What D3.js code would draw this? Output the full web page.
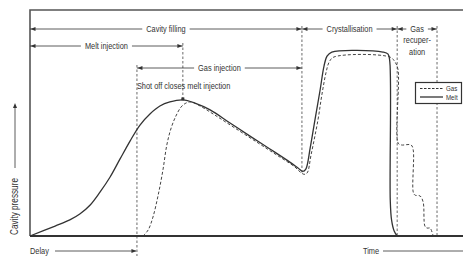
<!DOCTYPE html>
<html>
<head>
<meta charset="utf-8">
<script src="https://cdn.jsdelivr.net/npm/d3@7"></script>
<style>
  html, body { margin: 0; padding: 0; background: #fff; }
  svg { display: block; }
  text { font-family: "Liberation Sans Narrow", "Arial Narrow", "Liberation Sans", sans-serif; fill: #333; }
</style>
</head>
<body>
<svg id="chart" width="463" height="257"></svg>
<script>
// time in s, cavity pressure in % of max
const meltTime = [0.00, 0.58, 0.92, 1.15, 1.39, 1.62, 1.85, 2.08, 2.31, 2.54, 2.77, 3.00, 3.23, 3.53,
    3.81, 4.16, 4.62, 5.08, 5.54, 6.00, 6.19, 6.30, 6.37, 6.47, 6.58, 6.70, 6.79, 6.86, 6.97,
    8.15, 8.27, 8.31, 8.32, 8.35, 8.41, 8.48];
const meltPressure = [0, 4.4, 7.1, 9.7, 13.7, 19.5, 26.1, 34.1, 42.0, 49.1, 54.0, 57.5, 59.3, 60.2,
    58.8, 55.8, 50.0, 44.2, 38.5, 32.7, 30.1, 28.6, 29.6, 38.9, 51.3, 64.6, 75.2, 79.6, 81.4,
    81.4, 80.5, 77.0, 15.9, 7.1, 2.2, 0];

const gasTime = [2.61, 2.73, 2.84, 2.96, 3.07, 3.16, 3.26, 3.37, 3.49, 3.60, 3.72,
    3.93, 4.27, 4.73, 5.20, 5.66, 6.12, 6.24, 6.33, 6.40, 6.49, 6.65, 6.74, 6.84, 6.91, 7.02,
    8.31, 8.43, 8.50, 8.50, 8.57, 8.80, 8.85, 8.85, 8.89, 9.01, 9.08, 9.12, 9.17, 9.24, 9.31];
const gasPressure = [0, 2.7, 8.4, 18.1, 29.2, 40.3, 47.8, 53.1, 57.1, 58.8, 59.3,
    57.5, 53.5, 47.8, 42.0, 36.3, 30.5, 28.3, 27.3, 27.9, 35.8, 51.3, 62.4, 72.6, 77.0, 79.2,
    79.2, 77.0, 73.5, 41.2, 40.3, 40.3, 38.1, 19.5, 18.1, 17.7, 15.0, 4.4, 3.5, 3.5, 0];

// process phases
const phaseNames = ["Cavity filling", "Melt injection", "Gas injection", "Crystallisation", "Gas"];
const phaseStart = [0, 0, 2.47, 6.28, 8.48];
const phaseEnd = [6.28, 3.53, 6.28, 8.48, 9.40];
const phaseRow = [0, 1, 2, 0, 0];

// dashed guides: time, from row, down to pressure (null = below the axis)
const guideTime = [2.47, 3.53, 6.28, 8.48, 9.40];
const guideRow = [2, 1, 0, 0, 0];
const guideEndPressure = [null, 60.2, 27.5, 0, 0];

const legendNames = ["Gas", "Melt"];

const svg = d3.select("#chart");
const x = d3.scaleLinear().domain([0, 10]).range([30, 463]);
const y = d3.scaleLinear().domain([0, 100]).range([236, 10]);
const rowY = [29, 46, 68];
const ink = "#333";

// no narrow font installed, so squeeze the text
function narrow(t) {
    let w = t.node().getComputedTextLength();
    t.attr("textLength", w * 0.82).attr("lengthAdjust", "spacingAndGlyphs");
    return w * 0.82;
}

function arrowHead(g, tipX, tipY, dir) {
    // dir: -1 left, 1 right, 0 up
    let pts;
    if (dir === 0) pts = [[tipX, tipY], [tipX - 2, tipY + 5], [tipX + 2, tipY + 5]];
    else pts = [[tipX, tipY], [tipX - 5 * dir, tipY - 2], [tipX - 5 * dir, tipY + 2]];
    g.append("path").attr("d", "M" + pts.join("L") + "Z").attr("fill", ink);
}

// frame
svg.append("path")
    .attr("d", `M30,236V10H470`)
    .attr("fill", "none").attr("stroke", "#555").attr("stroke-width", 1.6);

// guides
const guides = svg.append("g");
guideTime.forEach((t, i) => {
    let yEnd = guideEndPressure[i] === null ? 256 : y(guideEndPressure[i]);
    guides.append("line")
        .attr("x1", x(t)).attr("x2", x(t))
        .attr("y1", rowY[guideRow[i]] - 3).attr("y2", yEnd)
        .attr("stroke", "#444").attr("stroke-width", 0.8)
        .attr("stroke-dasharray", "2.5,2");
});

// curves
const line = d3.line().x(d => x(d[0])).y(d => y(d[1])).curve(d3.curveCatmullRom.alpha(0.5));
svg.append("path")
    .datum(gasTime.map((t, i) => [t, gasPressure[i]]))
    .attr("d", line).attr("fill", "none")
    .attr("stroke", "#444").attr("stroke-width", 1)
    .attr("stroke-dasharray", "3,2");
svg.append("path")
    .datum(meltTime.map((t, i) => [t, meltPressure[i]]))
    .attr("d", line).attr("fill", "none")
    .attr("stroke", ink).attr("stroke-width", 1.3);

// bottom axis line
svg.append("line").attr("x1", 30).attr("x2", 463).attr("y1", 236).attr("y2", 236)
    .attr("stroke", ink).attr("stroke-width", 2);

// marker at the melt peak
svg.append("rect").attr("x", x(3.53) - 1.5).attr("y", y(60.2) - 2.5)
    .attr("width", 3).attr("height", 3).attr("fill", ink);

// phase arrows
const ann = svg.append("g").attr("font-size", 9);
phaseNames.forEach((name, i) => {
    let x0 = x(phaseStart[i]), x1 = x(phaseEnd[i]), yy = rowY[phaseRow[i]];
    let cx = (x0 + x1) / 2;
    let t = ann.append("text").attr("x", cx).attr("y", yy + 3)
        .attr("text-anchor", "middle").text(name);
    let w = narrow(t);
    ann.append("line").attr("x1", x0).attr("x2", cx - w / 2 - 4)
        .attr("y1", yy).attr("y2", yy).attr("stroke", ink).attr("stroke-width", 0.8);
    ann.append("line").attr("x1", cx + w / 2 + 4).attr("x2", x1)
        .attr("y1", yy).attr("y2", yy).attr("stroke", ink).attr("stroke-width", 0.8);
    arrowHead(ann, x0 + 0.5, yy, -1);
    arrowHead(ann, x1 - 0.5, yy, 1);
});
// second and third line of "Gas recuper-ation"
let cxGas = (x(phaseStart[4]) + x(phaseEnd[4])) / 2;
narrow(ann.append("text").attr("x", cxGas).attr("y", 43).attr("text-anchor", "middle").text("recuper-"));
narrow(ann.append("text").attr("x", cxGas).attr("y", 55).attr("text-anchor", "middle").text("ation"));

narrow(ann.append("text").attr("x", x(2.47)).attr("y", 89).text("Shot off closes melt injection"));

// axis titles
narrow(ann.append("text").attr("x", 30).attr("y", 254).text("Delay"));
ann.append("line").attr("x1", 55).attr("x2", x(2.47) - 1).attr("y1", 251).attr("y2", 251)
    .attr("stroke", ink).attr("stroke-width", 0.8);
arrowHead(ann, x(2.47) - 0.5, 251, 1);

narrow(ann.append("text").attr("x", 363).attr("y", 254).text("Time"));
ann.append("line").attr("x1", 383).attr("x2", 470).attr("y1", 251).attr("y2", 251)
    .attr("stroke", ink).attr("stroke-width", 0.8);

narrow(ann.append("text").attr("transform", "translate(18,235) rotate(-90)")
    .attr("font-size", 10).text("Cavity pressure"));
ann.append("line").attr("x1", 15).attr("x2", 15).attr("y1", 168).attr("y2", 106)
    .attr("stroke", ink).attr("stroke-width", 0.8);
arrowHead(ann, 15, 103, 0);

// legend
const leg = svg.append("g");
leg.append("rect").attr("x", 415.5).attr("y", 82.5).attr("width", 46).attr("height", 21)
    .attr("fill", "#fff").attr("stroke", ink).attr("stroke-width", 1.2);
legendNames.forEach((name, i) => {
    let ly = 88.5 + i * 8.5;
    leg.append("line").attr("x1", 420).attr("x2", 443).attr("y1", ly).attr("y2", ly)
        .attr("stroke", ink).attr("stroke-width", i === 0 ? 1 : 1.3)
        .attr("stroke-dasharray", i === 0 ? "2.5,1.5" : null);
    narrow(leg.append("text").attr("x", 446).attr("y", ly + 2.7).attr("font-size", 7.5).text(name));
});
</script>
</body>
</html>
